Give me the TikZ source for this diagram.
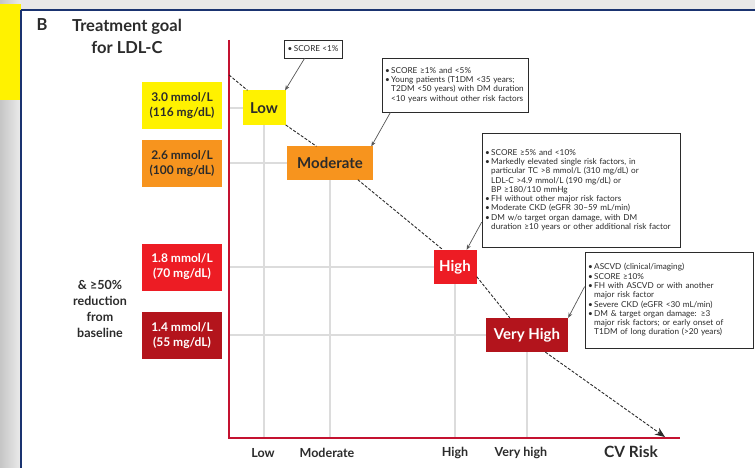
\documentclass[tikz,border=0pt]{standalone}
\usepackage{fontspec}
\setmainfont{Lato}
\usetikzlibrary{arrows.meta,calc}
\definecolor{cyel}{HTML}{FFF200}
\definecolor{corg}{HTML}{F7941E}
\definecolor{cred}{HTML}{ED1C24}
\definecolor{cdred}{HTML}{B3141C}
\definecolor{caxis}{HTML}{C41230}
\definecolor{cgrid}{HTML}{DCDCDC}
\definecolor{cblue}{HTML}{1A3370}
\definecolor{ctxt}{HTML}{2B2B2B}
\newcommand{\bl}{\makebox[6.2pt][l]{•}}
\newcommand{\ct}{\hspace*{6.2pt}}
\tikzset{
  valbox/.style={minimum width=80pt,minimum height=47pt,inner sep=0pt,align=center,
     font=\bfseries\fontsize{12}{15}\selectfont},
  riskbox/.style={minimum height=34pt,inner sep=0pt,align=center,
     font=\bfseries\fontsize{15}{17}\selectfont},
  callout/.style={draw=ctxt,line width=0.8pt,fill=white,inner sep=3pt,align=left,
     font=\fontsize{8.2}{9.3}\selectfont,text=ctxt},
  axlabel/.style={font=\bfseries\fontsize{12.5}{14}\selectfont,text=ctxt},
  gridline/.style={draw=cgrid,line width=1.8pt},
  riskpath/.style={draw=ctxt,line width=0.9pt,dash pattern=on 3pt off 1.6pt},
  callarrow/.style={draw=ctxt!80,line width=0.7pt,-{Stealth[length=5pt,width=4pt]}}
}
\begin{document}
\begin{tikzpicture}[x=1pt,y=-1pt]
\useasboundingbox (0,0) rectangle (755,468);
% background chrome
\shade[left color=gray!45,right color=gray!15] (0,0) rectangle (21,468);
\fill[gray!18] (21,0) rectangle (755,9);
\fill[cyel] (0,4) rectangle (21,100);
\draw[cblue,line width=2pt] (21,10) -- (755,10);
\draw[cblue,line width=1.3pt] (21,10) -- (21,468);
% title
\node[font=\bfseries\fontsize{16.5}{19}\selectfont,text=ctxt] (B) at (42,25) {B};
\node[font=\bfseries\fontsize{16.5}{22}\selectfont,text=ctxt,align=center] (title) at (127,36) {Treatment goal\\for LDL-C};
% risk box centres
\coordinate (lowc) at (264,108);
\coordinate (modc) at (330,163);
\coordinate (highc) at (455,267);
\coordinate (vhc) at (527,335);
% grid lines
\draw[gridline] (229,108) -- (lowc) -- (264,438);
\draw[gridline] (229,163) -- (modc) -- (330,438);
\draw[gridline] (229,267) -- (highc) -- (455,438);
\draw[gridline] (229,335) -- (vhc) -- (527,438);
% axes
\draw[caxis,line width=1.8pt] (229,40) -- (229,438) -- (680,438);
% risk boxes
\node[riskbox,fill=cyel,minimum width=43pt,minimum height=35pt,text=ctxt] (low) at (lowc) {Low};
\node[riskbox,fill=corg,minimum width=86pt,minimum height=33pt,text=ctxt] (mod) at (modc) {Moderate};
\node[riskbox,fill=cred,minimum width=43pt,text=white] (high) at (highc) {High};
\node[riskbox,fill=cdred,minimum width=82pt,text=white] (vh) at (vhc) {Very High};
% value boxes
\node[valbox,fill=cyel,text=ctxt] (v1) at (182,106) {3.0 mmol/L\\(116 mg/dL)};
\node[valbox,fill=corg,text=ctxt] (v2) at (182,163.5) {2.6 mmol/L\\(100 mg/dL)};
\node[valbox,fill=cred,text=white] (v3) at (182,267) {1.8 mmol/L\\(70 mg/dL)};
\node[valbox,fill=cdred,text=white] (v4) at (182,335.5) {1.4 mmol/L\\(55 mg/dL)};
\node[font=\bfseries\fontsize{12.5}{16}\selectfont,text=ctxt,align=center] (red) at (100,309) {\& ≥50\%\\reduction\\from\\baseline};
% risk path
\coordinate (pstart) at (229,75);
\coordinate (pend) at (665,437);
\draw[riskpath] (pstart) -- (low.133);
\draw[riskpath] (low.-38) -- (mod.129);
\draw[riskpath] (mod.-31) -- (high.125);
\draw[riskpath] (high.-24) -- (vh.135);
\draw[riskpath,-{Stealth[length=10pt,width=8pt]}] (vh.-43) -- (pend);
% axis labels
\node[axlabel] (xl1) at (263,453) {Low};
\node[axlabel] (xl2) at (327,453) {Moderate};
\node[axlabel] (xl3) at (455,453) {High};
\node[axlabel] (xl4) at (521,453) {Very high};
\node[font=\bfseries\fontsize{15.5}{17}\selectfont,text=ctxt] (xl5) at (631,452) {CV Risk};
% callouts
\node[callout,minimum width=58pt,minimum height=18pt,inner sep=2pt] (c1) at (313,49) {\bl SCORE <1\%};
\node[callout,text width=140pt,minimum height=54pt] (c2) at (455,85) {\bl SCORE ≥1\% and <5\%\\
\bl Young patients (T1DM <35 years;\\
\ct T2DM <50 years) with DM duration\\
\ct <10 years without other risk factors};
\node[callout,text width=192pt,minimum height=114pt] (c3) at (581,190) {\bl SCORE ≥5\% and <10\%\\
\bl Markedly elevated single risk factors, in\\
\ct particular TC >8 mmol/L (310 mg/dL) or\\
\ct LDL-C >4.9 mmol/L (190 mg/dL) or\\
\ct BP ≥180/110 mmHg\\
\bl FH without other major risk factors\\
\bl Moderate CKD (eGFR 30–59 mL/min)\\
\bl DM w/o target organ damage, with DM\\
\ct duration ≥10 years or other additional risk factor};
\node[callout,text width=162pt,minimum height=96pt] (c4) at (669,300) {\bl ASCVD (clinical/imaging)\\
\bl SCORE ≥10\%\\
\bl FH with ASCVD or with another\\
\ct major risk factor\\
\bl Severe CKD (eGFR <30 mL/min)\\
\bl DM \& target organ damage: ≥3\\
\ct major risk factors; or early onset of\\
\ct T1DM of long duration (>20 years)};
% callout arrows
\draw[callarrow] (c1.228) -- (low.40);
\draw[callarrow] (c2.203) -- (mod.22);
\draw[callarrow] (c3.198) -- (high.56);
\draw[callarrow] (c4.171) -- (vh.north east);
\end{tikzpicture}
\end{document}
